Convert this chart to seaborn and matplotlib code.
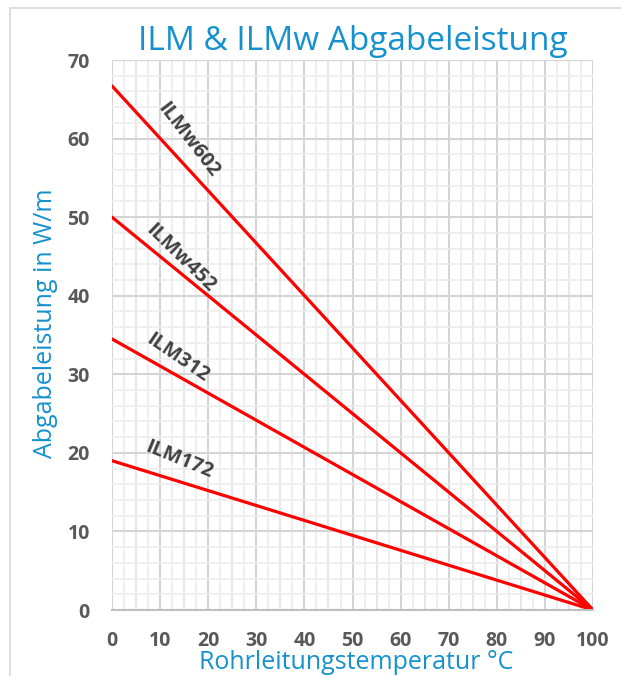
import numpy as np
import pandas as pd
import matplotlib.pyplot as plt
import seaborn as sns
from matplotlib.patches import Rectangle
from matplotlib.ticker import MultipleLocator

sns.set_theme(style="white")
plt.rcParams["font.family"] = ["Open Sans", "DejaVu Sans"]

# Daten
temperatur = [0, 100]
typen = ["ILMw602", "ILMw452", "ILM312", "ILM172"]
leistung_0 = [66.7, 50.0, 34.5, 19.0]
leistung_100 = [0, 0, 0, 0]
label_x = [15.8, 14.3, 13.7, 13.9]
label_y = [59.8, 44.8, 32.1, 19.1]

rows = []
for t, a, b in zip(typen, leistung_0, leistung_100):
    rows.append({"typ": t, "temp": temperatur[0], "w": a})
    rows.append({"typ": t, "temp": temperatur[1], "w": b})
df = pd.DataFrame(rows)

blau = "#1591cf"
grau = "#595959"

fig = plt.figure(figsize=(6.21, 6.76), dpi=100)
ax = fig.add_axes([0.1804, 0.0976, 0.955 - 0.1804, 0.9112 - 0.0976])

ax.set_xlim(0, 100)
ax.set_ylim(0, 70)
ax.xaxis.set_major_locator(MultipleLocator(10))
ax.yaxis.set_major_locator(MultipleLocator(10))
ax.xaxis.set_minor_locator(MultipleLocator(2.5))
ax.yaxis.set_minor_locator(MultipleLocator(2))
ax.grid(which="minor", color="#ececec", lw=1.2)
ax.grid(which="major", axis="y", color="#d4d4d4", lw=1.5)
# vertikale Linien alle 5 etwas dunkler
for xv in np.arange(0, 101, 5):
    ax.axvline(xv, color="#d4d4d4", lw=1.5, zorder=0.5)
ax.set_axisbelow(True)
for s in ["top", "right", "left"]:
    ax.spines[s].set_visible(False)
ax.spines["bottom"].set_color("#bfbfbf")
ax.spines["bottom"].set_linewidth(1.5)

sns.lineplot(data=df, x="temp", y="w", hue="typ", palette=["#ff0000"] * 4,
             lw=2.3, legend=False, ax=ax)

winkel = []
for a in leistung_0:
    p0 = ax.transData.transform((0, a))
    p1 = ax.transData.transform((100, 0))
    winkel.append(np.degrees(np.arctan2(p1[1] - p0[1], p1[0] - p0[0])) - 5)
for t, x, y, w in zip(typen, label_x, label_y, winkel):
    ax.text(x, y, t, rotation=w, ha="center", va="center", fontsize=14.5,
            fontweight="bold", color="#404040", rotation_mode="anchor")

ax.tick_params(axis="both", length=0, labelsize=14, labelcolor=grau)
ax.tick_params(axis="x", pad=15)
ax.tick_params(axis="y", pad=16)
for lab in ax.get_xticklabels() + ax.get_yticklabels():
    lab.set_fontweight("bold")

ax.set_xlabel("Rohrleitungstemperatur °C", color=blau, fontsize=18)
ax.set_ylabel("Abgabeleistung in W/m", color=blau, fontsize=18)
ax.xaxis.set_label_coords(0.507, -0.0735)
ax.yaxis.set_label_coords(-0.112, 0.522)
ax.set_title("ILM & ILMw Abgabeleistung", color=blau, fontsize=24, pad=7)

fig.patches.append(Rectangle((10 / 621, -0.1), 1.2, 1 - 8 / 676 + 0.1,
                             transform=fig.transFigure, fill=False,
                             ec="#d9d9d9", lw=1.2))

plt.savefig("out.png", dpi=100)
